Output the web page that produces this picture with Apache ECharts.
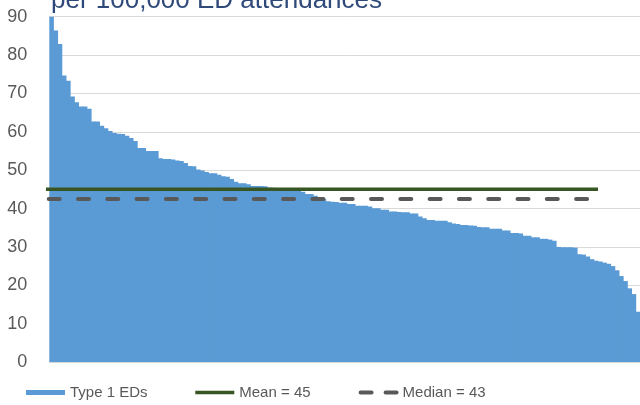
<!DOCTYPE html>
<html>
<head>
<meta charset="utf-8">
<script src="https://cdn.jsdelivr.net/npm/echarts@6/dist/echarts.min.js"></script>
<style>html,body{margin:0;padding:0;background:#fff}#c{width:640px;height:405px}</style>
</head>
<body>
<div id="c"></div>
<script>
var titleText = 'per 100,000 ED attendances';
var yTicks = [0, 10, 20, 30, 40, 50, 60, 70, 80, 90];
var edValues = [
  90, 86.4, 82.9, 74.7, 73.3, 69.2, 67.7, 66.6, 66.6, 66.0,
  62.7, 62.7, 61.6, 60.9, 60.2, 59.7, 59.5, 59.4, 59.0, 58.4,
  57.6, 55.8, 55.8, 55.0, 55.0, 55.0, 53.1, 52.9, 52.9, 52.8,
  52.5, 52.4, 51.9, 51.1, 51.0, 50.2, 49.9, 49.5, 49.2, 49.2,
  48.8, 48.4, 48.3, 47.7, 47.0, 46.6, 46.6, 46.3, 45.9, 45.9,
  45.9, 45.8, 45.5, 45.4, 45.3, 45.1, 45.0, 44.9, 44.8, 44.7,
  44.4, 43.8, 43.8, 43.3, 43.0, 42.5, 41.9, 41.8, 41.7, 41.5,
  41.5, 41.2, 41.2, 40.7, 40.7, 40.7, 40.5, 40.1, 40.1, 39.7,
  39.7, 39.2, 39.2, 39.1, 39.0, 39.0, 38.7, 38.7, 37.9, 37.5,
  37.0, 37.0, 36.8, 36.8, 36.8, 36.4, 36.1, 36.0, 35.7, 35.7,
  35.6, 35.5, 35.2, 35.1, 35.1, 34.7, 34.7, 34.7, 34.3, 34.3,
  33.6, 33.6, 33.5, 32.9, 32.9, 32.5, 32.5, 32.1, 32.1, 31.9,
  31.6, 30.0, 29.9, 29.9, 29.9, 29.8, 28.1, 28.0, 27.5, 26.8,
  26.4, 26.2, 25.9, 25.6, 25.0, 23.9, 22.4, 21.1, 19.2, 17.7,
  13.1
];
var edNames = edValues.map(function (v, i) { return 'ED ' + (i + 1); });
var meanValue = 45;
var medianValue = 42.5;
var seriesNames = ['Type 1 EDs', 'Mean = 45', 'Median = 43'];

var chart = echarts.init(document.getElementById('c'), null, {renderer: 'canvas'});
var font = 'Liberation Sans, Arial, sans-serif';
chart.setOption({
  animation: false,
  backgroundColor: '#ffffff',
  title: {
    text: titleText,
    left: 51,
    top: -12,
    padding: 0,
    textStyle: {fontFamily: font, fontSize: 26, fontWeight: 'normal', color: '#2F4A7A'}
  },
  legend: {
    data: [
      {name: seriesNames[0], icon: 'rect'},
      {name: seriesNames[1], itemStyle: {opacity: 0},
        lineStyle: {color: '#375623', width: 3.5, type: 'solid'}},
      {name: seriesNames[2], itemStyle: {opacity: 0},
        lineStyle: {color: '#595959', width: 4, type: [11, 14], dashOffset: -2, cap: 'round'}}
    ],
    left: 26,
    top: 385,
    itemWidth: 39,
    itemHeight: 5,
    itemGap: 46,
    padding: 0,
    textStyle: {fontFamily: font, fontSize: 15, color: '#595959'}
  },
  grid: [
    {left: 49.3, right: 0, top: 16.7, bottom: 43, containLabel: false},
    {left: 46, right: 42, top: 16.7, bottom: 43, containLabel: false}
  ],
  xAxis: [
    {
      type: 'category', gridIndex: 0, data: edNames, boundaryGap: true,
      axisLine: {show: true, lineStyle: {color: '#d9d9d9', width: 1}},
      axisTick: {show: false}, axisLabel: {show: false}, splitLine: {show: false}
    },
    {
      type: 'value', gridIndex: 1, min: 0, max: 1, show: false
    }
  ],
  yAxis: [
    {
      type: 'value', gridIndex: 0, min: yTicks[0], max: yTicks[yTicks.length - 1], interval: 10,
      axisLine: {show: false}, axisTick: {show: false},
      axisLabel: {margin: 22, fontFamily: font, fontSize: 18, color: '#595959'},
      splitLine: {show: true, lineStyle: {color: '#d9d9d9', width: 1}}
    },
    {
      type: 'value', gridIndex: 1, min: 0, max: 90, show: false
    }
  ],
  series: [
    {
      name: seriesNames[0], type: 'bar', xAxisIndex: 0, yAxisIndex: 0,
      data: edValues, barWidth: 5, barGap: '-100%',
      itemStyle: {color: '#5B9BD5'}
    },
    {
      name: seriesNames[1], type: 'line', xAxisIndex: 1, yAxisIndex: 1,
      data: [[0, meanValue], [1, meanValue]], symbol: 'none', z: 5,
      itemStyle: {color: '#375623'},
      lineStyle: {color: '#375623', width: 3.5}
    },
    {
      name: seriesNames[2], type: 'line', xAxisIndex: 1, yAxisIndex: 1,
      data: [[0, medianValue], [1, medianValue]], symbol: 'none', z: 5,
      itemStyle: {color: '#595959'},
      lineStyle: {color: '#595959', width: 4, type: [11, 18.3], dashOffset: -2.7, cap: 'round'}
    }
  ]
});
</script>
</body>
</html>
